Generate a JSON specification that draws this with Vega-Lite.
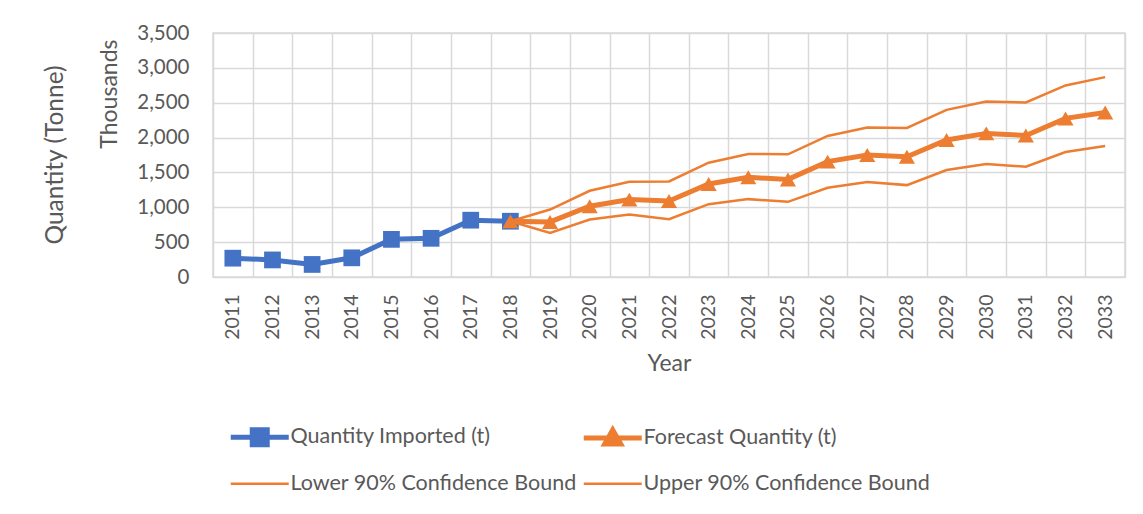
{
  "$schema": "https://vega.github.io/schema/vega-lite/v6.json",
  "autosize": "none",
  "width": 912,
  "height": 244,
  "padding": {"left": 213, "top": 33, "right": 18, "bottom": 237},
  "background": "white",
  "title": {"text": "Quantity (Tonne)", "orient": "left", "anchor": "middle", "frame": "group", "offset": 30, "font": "Lato", "fontSize": 24.5, "fontWeight": "normal", "color": "#595959"},
  "config": {
    "view": {"stroke": "#D9D9D9", "strokeWidth": 1.5},
    "font": "Lato"
  },
  "data": {"values": [
    {"year": "2011", "series": "Quantity Imported (t)", "value": 270},
    {"year": "2012", "series": "Quantity Imported (t)", "value": 245},
    {"year": "2013", "series": "Quantity Imported (t)", "value": 180},
    {"year": "2014", "series": "Quantity Imported (t)", "value": 275},
    {"year": "2015", "series": "Quantity Imported (t)", "value": 540},
    {"year": "2016", "series": "Quantity Imported (t)", "value": 555},
    {"year": "2017", "series": "Quantity Imported (t)", "value": 815},
    {"year": "2018", "series": "Quantity Imported (t)", "value": 800},
    {"year": "2018", "series": "Forecast Quantity (t)", "value": 800},
    {"year": "2019", "series": "Forecast Quantity (t)", "value": 790},
    {"year": "2020", "series": "Forecast Quantity (t)", "value": 1015},
    {"year": "2021", "series": "Forecast Quantity (t)", "value": 1110},
    {"year": "2022", "series": "Forecast Quantity (t)", "value": 1090},
    {"year": "2023", "series": "Forecast Quantity (t)", "value": 1335},
    {"year": "2024", "series": "Forecast Quantity (t)", "value": 1430},
    {"year": "2025", "series": "Forecast Quantity (t)", "value": 1400},
    {"year": "2026", "series": "Forecast Quantity (t)", "value": 1655},
    {"year": "2027", "series": "Forecast Quantity (t)", "value": 1750},
    {"year": "2028", "series": "Forecast Quantity (t)", "value": 1725},
    {"year": "2029", "series": "Forecast Quantity (t)", "value": 1965},
    {"year": "2030", "series": "Forecast Quantity (t)", "value": 2060},
    {"year": "2031", "series": "Forecast Quantity (t)", "value": 2030},
    {"year": "2032", "series": "Forecast Quantity (t)", "value": 2275},
    {"year": "2033", "series": "Forecast Quantity (t)", "value": 2360},
    {"year": "2018", "series": "Lower 90% Confidence Bound", "value": 800},
    {"year": "2019", "series": "Lower 90% Confidence Bound", "value": 633},
    {"year": "2020", "series": "Lower 90% Confidence Bound", "value": 825},
    {"year": "2021", "series": "Lower 90% Confidence Bound", "value": 895},
    {"year": "2022", "series": "Lower 90% Confidence Bound", "value": 830},
    {"year": "2023", "series": "Lower 90% Confidence Bound", "value": 1045},
    {"year": "2024", "series": "Lower 90% Confidence Bound", "value": 1117},
    {"year": "2025", "series": "Lower 90% Confidence Bound", "value": 1078},
    {"year": "2026", "series": "Lower 90% Confidence Bound", "value": 1280},
    {"year": "2027", "series": "Lower 90% Confidence Bound", "value": 1362},
    {"year": "2028", "series": "Lower 90% Confidence Bound", "value": 1318},
    {"year": "2029", "series": "Lower 90% Confidence Bound", "value": 1534},
    {"year": "2030", "series": "Lower 90% Confidence Bound", "value": 1620},
    {"year": "2031", "series": "Lower 90% Confidence Bound", "value": 1582},
    {"year": "2032", "series": "Lower 90% Confidence Bound", "value": 1793},
    {"year": "2033", "series": "Lower 90% Confidence Bound", "value": 1880},
    {"year": "2018", "series": "Upper 90% Confidence Bound", "value": 800},
    {"year": "2019", "series": "Upper 90% Confidence Bound", "value": 968},
    {"year": "2020", "series": "Upper 90% Confidence Bound", "value": 1237},
    {"year": "2021", "series": "Upper 90% Confidence Bound", "value": 1367},
    {"year": "2022", "series": "Upper 90% Confidence Bound", "value": 1371},
    {"year": "2023", "series": "Upper 90% Confidence Bound", "value": 1640},
    {"year": "2024", "series": "Upper 90% Confidence Bound", "value": 1765},
    {"year": "2025", "series": "Upper 90% Confidence Bound", "value": 1760},
    {"year": "2026", "series": "Upper 90% Confidence Bound", "value": 2023},
    {"year": "2027", "series": "Upper 90% Confidence Bound", "value": 2143},
    {"year": "2028", "series": "Upper 90% Confidence Bound", "value": 2139},
    {"year": "2029", "series": "Upper 90% Confidence Bound", "value": 2398},
    {"year": "2030", "series": "Upper 90% Confidence Bound", "value": 2517},
    {"year": "2031", "series": "Upper 90% Confidence Bound", "value": 2503},
    {"year": "2032", "series": "Upper 90% Confidence Bound", "value": 2748},
    {"year": "2033", "series": "Upper 90% Confidence Bound", "value": 2867}
  ]},
  "encoding": {
    "x": {
      "field": "year", "type": "ordinal", "sort": "ascending",
      "scale": {"type": "band", "paddingInner": 0, "paddingOuter": 0},
      "axis": {
        "title": "Year", "labelAngle": 270, "tickBand": "extent", "ticks": false,
        "grid": true, "gridColor": "#D9D9D9", "gridWidth": 1.5,
        "domain": false, "labelPadding": 17, "labelFont": "Lato", "labelFontSize": 19.5,
        "labelColor": "#595959", "titleFont": "Lato", "titleFontSize": 23,
        "titleFontWeight": "normal", "titleColor": "#595959", "titlePadding": 13
      }
    },
    "y": {
      "field": "value", "type": "quantitative",
      "scale": {"domain": [0, 3500], "nice": false},
      "axis": {
        "title": "Thousands", "titleAnchor": "end", "titleY": 6, "values": [0, 500, 1000, 1500, 2000, 2500, 3000, 3500],
        "format": ",d", "ticks": false, "domain": false, "grid": true, "gridColor": "#D9D9D9", "gridWidth": 1.5,
        "labelPadding": 24, "labelFont": "Lato", "labelFontSize": 20.5, "labelColor": "#595959",
        "titleFont": "Lato", "titleFontSize": 23, "titleFontWeight": "normal", "titleColor": "#595959", "titlePadding": 15
      }
    },
    "color": {
      "field": "series", "type": "nominal",
      "scale": {
        "domain": ["Quantity Imported (t)", "Forecast Quantity (t)", "Lower 90% Confidence Bound", "Upper 90% Confidence Bound"],
        "range": ["#4472C4", "#ED7D31", "#ED7D31", "#ED7D31"]
      },
      "legend": {
        "title": null, "orient": "none", "legendX": 36, "legendY": 393, "direction": "horizontal", "columns": 2,
        "symbolSize": 400, "labelOffset": 20, "labelLimit": 500, "labelFont": "Lato", "labelFontSize": 21.5,
        "labelColor": "#595959", "rowPadding": 17, "columnPadding": -4,
        "encode": {
          "symbols": {
            "update": {
              "shape": {"signal": "datum.value === 'Quantity Imported (t)' ? 'M-2.9,0H2.9M-0.75,-0.75H0.75V0.75H-0.75Z' : datum.value === 'Forecast Quantity (t)' ? 'M-2.9,0H2.9M0,-0.8L0.8,0.6H-0.8Z' : 'M-2.9,0H2.9'"},
              "fill": {"signal": "datum.value === 'Quantity Imported (t)' ? '#4472C4' : '#ED7D31'"},
              "stroke": {"signal": "datum.value === 'Quantity Imported (t)' ? '#4472C4' : '#ED7D31'"},
              "strokeWidth": {"signal": "(datum.value === 'Quantity Imported (t)' || datum.value === 'Forecast Quantity (t)') ? 5 : 2.5"},
              "opacity": {"value": 1},
              "fillOpacity": {"value": 1},
              "strokeOpacity": {"value": 1}
            }
          }
        }
      }
    }
  },
  "layer": [
    {
      "transform": [{"filter": "datum.series === 'Quantity Imported (t)'"}],
      "mark": {"type": "line", "strokeWidth": 5}
    },
    {
      "transform": [{"filter": "datum.series === 'Quantity Imported (t)'"}],
      "mark": {"type": "point", "shape": "square", "filled": true, "size": 280, "opacity": 1}
    },
    {
      "transform": [{"filter": "datum.series === 'Forecast Quantity (t)'"}],
      "mark": {"type": "line", "strokeWidth": 5}
    },
    {
      "transform": [{"filter": "datum.series === 'Forecast Quantity (t)'"}],
      "mark": {"type": "point", "shape": "triangle-up", "filled": true, "size": 260, "opacity": 1}
    },
    {
      "transform": [{"filter": "datum.series === 'Lower 90% Confidence Bound' || datum.series === 'Upper 90% Confidence Bound'"}],
      "mark": {"type": "line", "strokeWidth": 2.5}
    }
  ]
}
